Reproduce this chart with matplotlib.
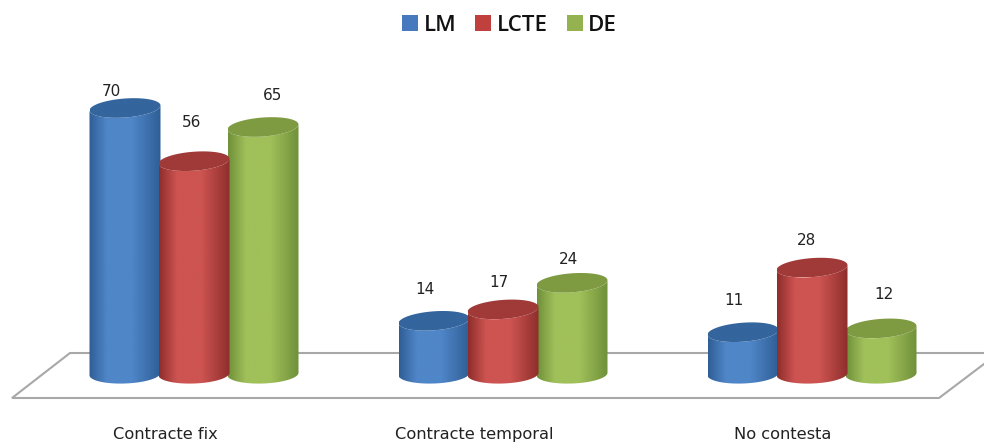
import numpy as np
import matplotlib
matplotlib.use("Agg")
import matplotlib.pyplot as plt
from matplotlib.colors import LinearSegmentedColormap
from matplotlib.patches import Patch, PathPatch
from matplotlib.path import Path

plt.rcParams['font.family'] = ['DejaVu Sans']

categories = ["Contracte fix", "Contracte temporal", "No contesta"]
series_names = ["LM", "LCTE", "DE"]
lm = [70, 14, 11]
lcte = [56, 17, 28]
de = [65, 24, 12]

# (fosc vora, clar centre, tapa, llegenda)
styles = {
    "LM": ("#2f5e96", "#4f86c8", "#34659d", "#4679bd"),
    "LCTE": ("#8e2e2c", "#cd5451", "#a03a38", "#c0403d"),
    "DE": ("#70903a", "#a0c05a", "#7f9b42", "#94b24f"),
}

# separacio en pixels de l'etiqueta respecte la tapa (dx, dy)
label_nudge = {
    "LM": [(-14, 17), (-9, 31), (-9, 32)],
    "LCTE": [(-2, 39), (-4, 27), (-6, 27)],
    "DE": [(10, 32), (-3, 23), (3, 34)],
}

# escala: 309 px entre grups, 3.8 px per unitat
group_px = 309.0
unit_px = 3.8
first_group_px = 194.0
zero_px = 374.0
axis_bottom_px = 420.0
half_w = 35.5 / group_px
half_h = 9.5 / unit_px
tilt = 0.07 * group_px / unit_px  # tapa una mica inclinada
step = 69.0 / group_px


def px_x(px):
    return (px - first_group_px) / group_px


def px_y(px):
    return (zero_px - px) / unit_px


def cylinder_paths(xc, value):
    t = np.linspace(0, np.pi, 60)
    ex = np.cos(t) * half_w
    front = -np.sin(t) * half_h + ex * tilt
    base = -np.sin(t) * half_h + ex * tilt * 0.5
    # costat: meitat de davant de la tapa + meitat de davant de la base
    side_x = np.concatenate([xc + ex, xc + ex[::-1]])
    side_y = np.concatenate([value + front, base[::-1]])
    tt = np.linspace(0, 2 * np.pi, 100)
    cap_x = xc + np.cos(tt) * half_w
    cap_y = value + np.sin(tt) * half_h + np.cos(tt) * half_w * tilt
    return np.column_stack([side_x, side_y]), np.column_stack([cap_x, cap_y])


def draw_gradient(ax, verts, cmap, zorder):
    patch = PathPatch(Path(np.vstack([verts, verts[0]]), closed=True),
                      facecolor="none", edgecolor="none", zorder=zorder)
    ax.add_patch(patch)
    grad = np.linspace(0, 1, 128).reshape(1, -1)
    im = ax.imshow(grad, cmap=cmap, aspect="auto", zorder=zorder, vmin=0, vmax=1,
                   extent=(verts[:, 0].min(), verts[:, 0].max(),
                           verts[:, 1].min(), verts[:, 1].max()))
    im.set_clip_path(patch)


fig = plt.figure(figsize=(9.84, 4.45), dpi=100)
ax = fig.add_axes([0, (445 - axis_bottom_px) / 445, 1, axis_bottom_px / 445])

# terra del grafic
ax.plot([px_x(984), px_x(70), px_x(12), px_x(939), px_x(984)],
        [px_y(353), px_y(353), px_y(398), px_y(398), px_y(364)],
        color="#a8a8a8", lw=1.5, zorder=1, solid_joinstyle="miter")

values = {"LM": lm, "LCTE": lcte, "DE": de}
offsets = {"LM": -step, "LCTE": 0.0, "DE": step}
layer = {"LM": 2, "DE": 3, "LCTE": 4}

for name in series_names:
    dark, light, cap, _ = styles[name]
    side_cmap = LinearSegmentedColormap.from_list(
        name, [(0, dark), (0.25, light), (0.6, light), (1, dark)])
    cap_cmap = LinearSegmentedColormap.from_list(name + "c", [cap, cap])
    for i, v in enumerate(values[name]):
        xc = i + offsets[name]
        side, top = cylinder_paths(xc, v)
        draw_gradient(ax, side, side_cmap, layer[name])
        draw_gradient(ax, top, cap_cmap, layer[name] + 0.5)
        dx, dy = label_nudge[name][i]
        ax.annotate(str(v), (xc, v), xytext=(dx * 0.72, dy * 0.72),
                    textcoords="offset points", ha="center", va="center",
                    fontsize=11, color="#222222", zorder=6)

ax.set_xlim(px_x(0), px_x(984))
ax.set_ylim(px_y(axis_bottom_px), px_y(0))
ax.set_yticks([])
ax.set_xticks(np.arange(len(categories)) - 29 / group_px)
ax.set_xticklabels(categories, fontsize=11.7, color="#222222")
ax.tick_params(axis="x", length=0, pad=5)
for s in ax.spines.values():
    s.set_visible(False)
ax.patch.set_alpha(0)

handles = [Patch(facecolor=styles[n][3], label=n) for n in series_names]
fig.legend(handles=handles, loc="upper center", bbox_to_anchor=(0.518, 1.012), ncol=3,
           frameon=False, handlelength=0.72, handleheight=0.72,
           handletextpad=0.25, columnspacing=0.85, labelcolor="#111111",
           prop={"family": "Open Sans", "size": 16, "weight": "semibold"})

fig.savefig("out.png", dpi=100, facecolor="white")
